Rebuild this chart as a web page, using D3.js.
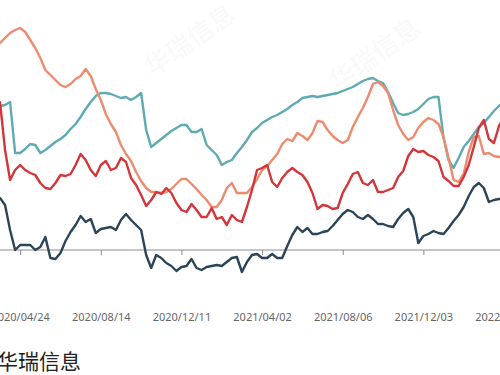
<!DOCTYPE html>
<html>
<head>
<meta charset="utf-8">
<script src="https://cdn.jsdelivr.net/npm/d3@7"></script>
<style>
  html, body { margin: 0; padding: 0; background: #fff; }
  svg { display: block; }
</style>
</head>
<body>
<div id="chart"></div>
<script>
// weekly dates (category axis, holiday weeks missing)
const dates = [
  "2020/03/20","2020/03/27","2020/04/03","2020/04/10","2020/04/17","2020/04/24","2020/05/01","2020/05/08","2020/05/15","2020/05/22",
  "2020/05/29","2020/06/05","2020/06/12","2020/06/19","2020/06/26","2020/07/03","2020/07/10","2020/07/17","2020/07/24","2020/07/31",
  "2020/08/07","2020/08/14","2020/08/21","2020/08/28","2020/09/04","2020/09/11","2020/09/18","2020/09/25","2020/10/09","2020/10/16",
  "2020/10/23","2020/10/30","2020/11/06","2020/11/13","2020/11/20","2020/11/27","2020/12/04","2020/12/11","2020/12/18","2020/12/25",
  "2021/01/01","2021/01/08","2021/01/15","2021/01/22","2021/01/29","2021/02/05","2021/02/12","2021/02/19","2021/02/26","2021/03/05",
  "2021/03/12","2021/03/19","2021/03/26","2021/04/02","2021/04/09","2021/04/16","2021/04/23","2021/05/07","2021/05/14","2021/05/21",
  "2021/05/28","2021/06/04","2021/06/18","2021/06/25","2021/07/02","2021/07/09","2021/07/16","2021/07/23","2021/07/30","2021/08/06",
  "2021/08/13","2021/08/20","2021/08/27","2021/09/03","2021/09/10","2021/09/17","2021/09/24","2021/10/08","2021/10/15","2021/10/22",
  "2021/10/29","2021/11/05","2021/11/12","2021/11/19","2021/11/26","2021/12/03","2021/12/10","2021/12/17","2021/12/24","2021/12/31",
  "2022/01/07","2022/01/14","2022/01/21","2022/01/28","2022/02/11","2022/02/18","2022/02/25","2022/03/04","2022/03/11","2022/03/18",
  "2022/03/25","2022/04/01"
];

const tickLabels = ["2020/04/24","2020/08/14","2020/12/11","2021/04/02","2021/08/06","2021/12/03","2022/04/01"];

const tealValues = [
  1420,1440,1450,1480,970,970,1010,1060,1050,970,
  1000,1040,1080,1110,1150,1210,1260,1330,1410,1480,
  1540,1570,1570,1560,1540,1520,1530,1500,1530,1570,
  1200,1030,1070,1110,1150,1190,1220,1250,1250,1180,
  1180,1210,1050,1000,950,850,880,900,970,1030,
  1100,1180,1220,1270,1300,1330,1350,1380,1410,1450,
  1480,1520,1530,1540,1530,1540,1550,1560,1570,1590,
  1610,1630,1660,1690,1710,1720,1690,1670,1580,1470,
  1370,1350,1360,1380,1410,1460,1510,1530,1530,1120,
  900,820,920,1030,1090,1160,1230,1270,1330,1390,
  1440,1480
];

const orangeValues = [
  2020,2070,2120,2170,2200,2220,2180,2100,2020,1920,
  1800,1750,1700,1650,1630,1660,1710,1740,1810,1740,
  1610,1500,1360,1260,1180,1050,960,890,780,690,
  620,580,580,570,580,610,660,710,710,660,
  610,550,500,430,430,500,620,670,570,570,
  570,630,710,800,840,900,960,1060,1110,1090,
  1170,1140,1100,1170,1290,1280,1200,1140,1100,1070,
  1100,1230,1330,1420,1530,1660,1680,1640,1570,1400,
  1250,1160,1100,1130,1220,1280,1320,1300,1260,1130,
  920,700,680,760,980,1130,1140,960,970,940,
  930,930
];

const redValues = [
  1500,1480,1000,700,800,850,800,770,750,670,
  620,610,670,750,740,760,850,960,900,800,
  740,850,890,800,820,920,880,720,650,550,
  440,500,580,560,620,570,470,400,380,460,
  400,330,330,420,310,330,250,350,300,280,
  430,600,800,820,850,680,630,720,780,820,
  780,750,680,570,410,450,440,410,420,570,
  660,760,780,670,650,700,580,580,600,620,
  730,790,940,1010,980,990,950,930,890,730,
  690,640,640,730,850,1030,1220,1300,1110,1070,
  1240,1320
];

const navyValues = [
  540,520,450,200,0,50,50,50,0,30,
  130,-80,-90,-30,90,180,250,340,280,310,
  170,210,220,230,200,300,360,300,250,200,
  -50,-180,-50,-80,-130,-160,-210,-170,-160,-90,
  -180,-200,-170,-160,-150,-160,-120,-80,-70,-220,
  -120,-50,-40,-80,-80,-40,-80,-80,40,150,
  230,180,220,160,160,180,190,240,300,360,
  400,380,330,310,350,310,260,260,240,230,
  310,370,410,330,70,140,160,190,170,160,
  220,290,350,430,540,630,670,620,480,500,
  510,510
];

const series = [
  { name: "teal", values: tealValues, color: "#5eabb3" },
  { name: "orange", values: orangeValues, color: "#ec8b6d" },
  { name: "red", values: redValues, color: "#d4353a" },
  { name: "navy", values: navyValues, color: "#2c4457" }
];

const width = 500, height = 375;
const step = 5.04;

const svg = d3.select("#chart").append("svg")
  .attr("width", width)
  .attr("height", height);

// watermark (très pâle)
svg.append("g").selectAll("text")
  .data([[195, 48], [380, 62]])
  .join("text")
  .attr("transform", d => `translate(${d[0]},${d[1]}) rotate(-35)`)
  .attr("text-anchor", "middle")
  .style("font-family", "'Noto Sans CJK SC', sans-serif")
  .style("font-size", "26px")
  .style("fill", "#000")
  .style("opacity", 0.018)
  .text("华瑞信息");

const x = d3.scalePoint()
  .domain(dates)
  .range([-step, -step + (dates.length - 1) * step]);

const y = d3.scaleLinear()
  .domain([0, 2500])
  .range([250, 0]);

// axe horizontal au zéro
const axis = d3.axisBottom(x)
  .tickValues(tickLabels)
  .tickSize(5)
  .tickSizeOuter(0);

const gx = svg.append("g")
  .attr("transform", `translate(0,${y(0)})`)
  .call(axis);
gx.select(".domain").remove();
gx.insert("line", ":first-child")
  .attr("x1", 0).attr("x2", width)
  .attr("stroke", "#8c8c8c");
gx.selectAll(".tick line").attr("stroke", "#8c8c8c");
gx.selectAll(".tick text")
  .attr("y", 63)
  .style("font-family", "'Noto Sans', sans-serif")
  .style("font-size", "11px")
  .style("fill", "#666");

const line = d3.line()
  .x((d, i) => x(dates[i]))
  .y(d => y(d));

svg.append("g").selectAll("path")
  .data(series)
  .join("path")
  .attr("fill", "none")
  .attr("stroke", d => d.color)
  .attr("stroke-width", 2.4)
  .attr("stroke-linejoin", "round")
  .attr("d", d => line(d.values));

// source
svg.append("text")
  .attr("x", -3)
  .attr("y", 369)
  .style("font-family", "'Noto Sans CJK SC', serif")
  .style("font-size", "21px")
  .style("fill", "#222")
  .text("华瑞信息");
</script>
</body>
</html>
